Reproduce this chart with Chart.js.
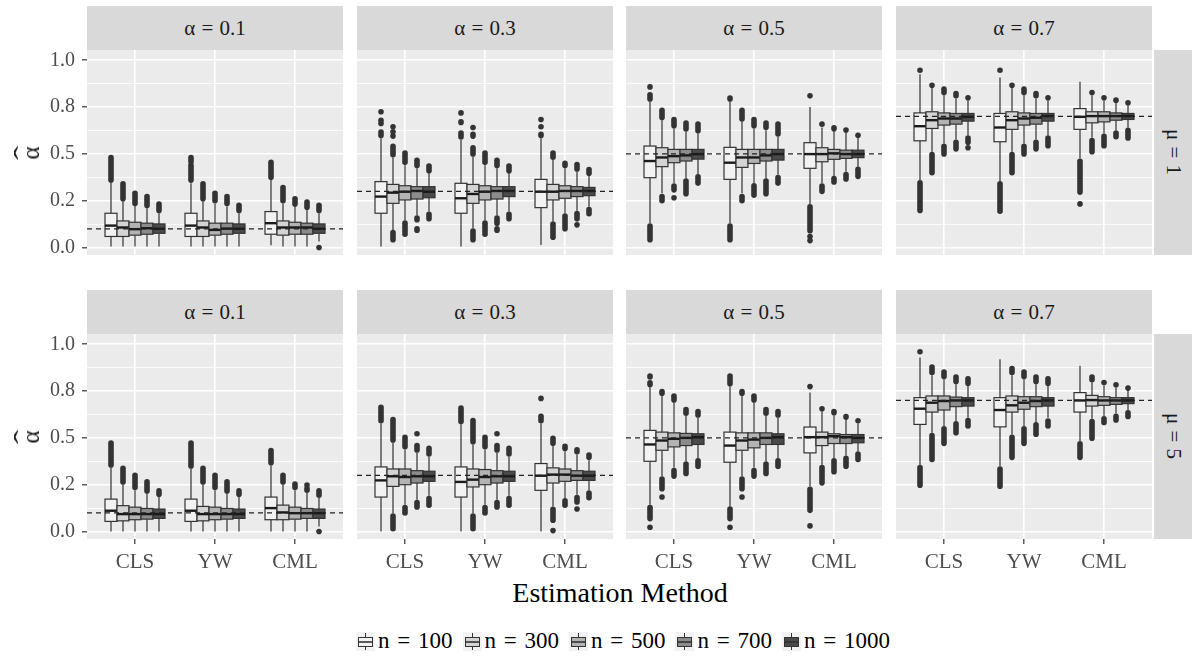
<!DOCTYPE html>
<html>
<head>
<meta charset="utf-8">
<script src="https://cdn.jsdelivr.net/npm/chart.js@4.4.1/dist/chart.umd.min.js"></script>
<style>
  body { margin: 0; background: #fff; width: 1192px; height: 657px; position: relative; overflow: hidden; font-family: "Liberation Serif", serif; }
  canvas { position: absolute; }
  .strip { position: absolute; background: #d9d9d9; color: #1a1a1a; font-size: 21px; display: flex; align-items: center; justify-content: center; word-spacing: 1px; }
  .strip.side { writing-mode: vertical-rl; }
  .ylab { position: absolute; font-size: 25px; color: #1a1a1a; line-height: 1; text-align: center; transform: translate(-50%, -50%) rotate(-90deg); }
  .ylab .hat { display: block; height: 3px; line-height: 18px; transform: scaleX(1.7); }
  #xtitle { position: absolute; left: 0; width: 1240px; top: 577px; text-align: center; font-size: 28px; color: #000; }
  #legend { position: absolute; left: 0; width: 1246px; top: 628px; display: flex; justify-content: center; align-items: center; font-size: 23px; color: #000; word-spacing: 2px; }
  #legend .item { display: flex; align-items: center; margin: 0 5px; }
  #legend canvas { position: static; margin-right: 3px; }
</style>
</head>
<body>
<div id="xtitle">Estimation Method</div>
<div id="legend"></div>
<script>
const methods = ['CLS', 'YW', 'CML'];
const sampleSizes = [100, 300, 500, 700, 1000];
const boxFills = ['#f2f2f2', '#d4d4d4', '#b3b3b3', '#8c8c8c', '#4a4a4a'];
const alphas = [0.1, 0.3, 0.5, 0.7];
const mus = [1, 5];
const yTicks = [0, 0.25, 0.5, 0.75, 1];
const yTickLabels = ['0.0', '0.2', '0.5', '0.8', '1.0'];
const yGrid = [0, 0.125, 0.25, 0.375, 0.5, 0.625, 0.75, 0.875, 1];

// box stats per method and n: [lower whisker, q1, median, q3, upper whisker]
// outliers: list of [from, to] runs (from == to is a single point)
const statsMu1A01 = [
  [0.005, 0.059, 0.117, 0.183, 0.345], [0.005, 0.059, 0.107, 0.142, 0.245], [0.005, 0.066, 0.098, 0.135, 0.222], [0.005, 0.071, 0.103, 0.130, 0.210], [0.005, 0.076, 0.100, 0.126, 0.183],
  [0.005, 0.059, 0.117, 0.183, 0.343], [0.005, 0.059, 0.107, 0.142, 0.245], [0.005, 0.066, 0.094, 0.130, 0.235], [0.005, 0.071, 0.101, 0.130, 0.220], [0.005, 0.076, 0.100, 0.126, 0.183],
  [0.012, 0.071, 0.130, 0.192, 0.360], [0.005, 0.066, 0.107, 0.142, 0.235], [0.005, 0.071, 0.107, 0.135, 0.218], [0.005, 0.071, 0.107, 0.130, 0.200], [0.032, 0.076, 0.100, 0.126, 0.183]
];
const outMu1A01 = [
  [[0.36, 0.48]], [[0.26, 0.34]], [[0.235, 0.29]], [[0.225, 0.25], [0.262, 0.272]], [[0.198, 0.232]],
  [[0.36, 0.44], [0.46, 0.48]], [[0.26, 0.34]], [[0.25, 0.29]], [[0.235, 0.272]], [[0.198, 0.225]],
  [[0.375, 0.455]], [[0.25, 0.32]], [[0.232, 0.26]], [[0.215, 0.243]], [[0.198, 0.225], [0.0, 0.0]]
];
const statsMu1A03 = [
  [0.005, 0.183, 0.272, 0.352, 0.583], [0.094, 0.236, 0.293, 0.337, 0.481], [0.144, 0.254, 0.298, 0.330, 0.440], [0.171, 0.259, 0.302, 0.325, 0.423], [0.192, 0.266, 0.298, 0.325, 0.396],
  [0.005, 0.183, 0.263, 0.343, 0.574], [0.103, 0.236, 0.286, 0.337, 0.485], [0.144, 0.254, 0.298, 0.330, 0.440], [0.171, 0.259, 0.302, 0.325, 0.423], [0.192, 0.272, 0.302, 0.325, 0.398],
  [0.014, 0.213, 0.298, 0.364, 0.583], [0.139, 0.254, 0.298, 0.337, 0.467], [0.183, 0.263, 0.302, 0.330, 0.423], [0.197, 0.272, 0.302, 0.325, 0.405], [0.218, 0.277, 0.302, 0.321, 0.382]
];
const outMu1A03 = [
  [[0.598, 0.617], [0.663, 0.663], [0.68, 0.68], [0.725, 0.725]], [[0.496, 0.54], [0.595, 0.595], [0.618, 0.618], [0.645, 0.645], [0.042, 0.08]], [[0.455, 0.505], [0.085, 0.13], [0.071, 0.071]], [[0.438, 0.466], [0.148, 0.157], [0.092, 0.10]], [[0.41, 0.435], [0.153, 0.178]],
  [[0.59, 0.612], [0.668, 0.672], [0.719, 0.719]], [[0.50, 0.532], [0.595, 0.605], [0.641, 0.641], [0.042, 0.088]], [[0.455, 0.505], [0.085, 0.13], [0.071, 0.071]], [[0.438, 0.466], [0.13, 0.157], [0.092, 0.10]], [[0.41, 0.435], [0.153, 0.178]],
  [[0.598, 0.605], [0.645, 0.645], [0.684, 0.684]], [[0.482, 0.505], [0.055, 0.125]], [[0.438, 0.45], [0.10, 0.168]], [[0.42, 0.443], [0.153, 0.182], [0.121, 0.121]], [[0.397, 0.417], [0.18, 0.203]]
];
const statsMu1A05 = [
  [0.130, 0.373, 0.462, 0.542, 0.778], [0.290, 0.432, 0.481, 0.533, 0.680], [0.343, 0.453, 0.488, 0.524, 0.636], [0.369, 0.462, 0.492, 0.524, 0.618], [0.393, 0.472, 0.499, 0.524, 0.609],
  [0.130, 0.364, 0.453, 0.535, 0.778], [0.290, 0.428, 0.481, 0.524, 0.671], [0.343, 0.449, 0.481, 0.524, 0.636], [0.369, 0.462, 0.492, 0.524, 0.627], [0.389, 0.467, 0.499, 0.524, 0.591],
  [0.233, 0.423, 0.499, 0.560, 0.751], [0.343, 0.458, 0.499, 0.533, 0.641], [0.382, 0.471, 0.503, 0.524, 0.627], [0.405, 0.476, 0.499, 0.520, 0.618], [0.432, 0.480, 0.499, 0.520, 0.588]
];
const outMu1A05 = [
  [[0.793, 0.816], [0.858, 0.858], [0.042, 0.115]], [[0.695, 0.733], [0.25, 0.272]], [[0.651, 0.683], [0.308, 0.328], [0.266, 0.266]], [[0.633, 0.665], [0.287, 0.355]], [[0.624, 0.66], [0.344, 0.378]],
  [[0.793, 0.798], [0.042, 0.115]], [[0.686, 0.733], [0.25, 0.272]], [[0.651, 0.683], [0.28, 0.33]], [[0.642, 0.665], [0.287, 0.355]], [[0.606, 0.66], [0.344, 0.374]],
  [[0.81, 0.81], [0.09, 0.218], [0.059, 0.059], [0.037, 0.037]], [[0.659, 0.659], [0.30, 0.328]], [[0.634, 0.64], [0.35, 0.368]], [[0.628, 0.628], [0.366, 0.39]], [[0.60, 0.60], [0.38, 0.418]]
];
const statsMu1A07 = [
  [0.361, 0.570, 0.648, 0.719, 0.925], [0.512, 0.636, 0.680, 0.725, 0.854], [0.556, 0.654, 0.689, 0.719, 0.813], [0.577, 0.659, 0.689, 0.716, 0.796], [0.600, 0.675, 0.698, 0.716, 0.787],
  [0.355, 0.565, 0.641, 0.716, 0.908], [0.512, 0.631, 0.680, 0.725, 0.854], [0.556, 0.654, 0.689, 0.719, 0.813], [0.577, 0.659, 0.693, 0.716, 0.796], [0.600, 0.675, 0.702, 0.716, 0.787],
  [0.476, 0.631, 0.698, 0.742, 0.885], [0.586, 0.666, 0.702, 0.725, 0.813], [0.609, 0.671, 0.702, 0.725, 0.787], [0.627, 0.680, 0.702, 0.719, 0.778], [0.641, 0.684, 0.702, 0.716, 0.760]
];
const outMu1A07 = [
  [[0.947, 0.947], [0.198, 0.346]], [[0.867, 0.867], [0.40, 0.497]], [[0.828, 0.846], [0.50, 0.541]], [[0.811, 0.822], [0.527, 0.562]], [[0.80, 0.802], [0.562, 0.585], [0.533, 0.533]],
  [[0.947, 0.947], [0.194, 0.34]], [[0.867, 0.867], [0.40, 0.497]], [[0.828, 0.846], [0.50, 0.541]], [[0.811, 0.822], [0.527, 0.562]], [[0.80, 0.802], [0.544, 0.585]],
  [[0.296, 0.461], [0.233, 0.233]], [[0.828, 0.83], [0.512, 0.571]], [[0.80, 0.80], [0.544, 0.594]], [[0.787, 0.787], [0.592, 0.612]], [[0.773, 0.773], [0.585, 0.626]]
];
const statsMu5A01 = [
  [0.0, 0.054, 0.111, 0.173, 0.340], [0.0, 0.057, 0.093, 0.138, 0.250], [0.0, 0.063, 0.093, 0.130, 0.220], [0.0, 0.066, 0.093, 0.123, 0.202], [0.0, 0.070, 0.093, 0.120, 0.184],
  [0.0, 0.054, 0.111, 0.173, 0.335], [0.0, 0.057, 0.093, 0.134, 0.250], [0.0, 0.063, 0.093, 0.130, 0.220], [0.0, 0.066, 0.093, 0.123, 0.202], [0.0, 0.070, 0.093, 0.120, 0.184],
  [0.0, 0.063, 0.125, 0.184, 0.352], [0.0, 0.063, 0.102, 0.141, 0.250], [0.0, 0.066, 0.098, 0.130, 0.220], [0.0, 0.070, 0.098, 0.123, 0.206], [0.027, 0.070, 0.098, 0.120, 0.179]
];
const outMu5A01 = [
  [[0.355, 0.473]], [[0.265, 0.337]], [[0.235, 0.30]], [[0.217, 0.266]], [[0.199, 0.217]],
  [[0.35, 0.473]], [[0.265, 0.337]], [[0.235, 0.30]], [[0.217, 0.266]], [[0.199, 0.217]],
  [[0.367, 0.432]], [[0.265, 0.30]], [[0.235, 0.253]], [[0.221, 0.23], [0.248, 0.248]], [[0.194, 0.217], [0.0, 0.0]]
];
const statsMu5A03 = [
  [0.0, 0.184, 0.273, 0.345, 0.577], [0.098, 0.241, 0.295, 0.334, 0.474], [0.143, 0.250, 0.291, 0.334, 0.438], [0.170, 0.259, 0.295, 0.325, 0.420], [0.191, 0.268, 0.295, 0.322, 0.399],
  [0.0, 0.184, 0.265, 0.345, 0.572], [0.098, 0.238, 0.277, 0.334, 0.465], [0.143, 0.250, 0.291, 0.331, 0.438], [0.170, 0.259, 0.295, 0.325, 0.420], [0.191, 0.268, 0.295, 0.322, 0.399],
  [0.0, 0.220, 0.298, 0.363, 0.577], [0.134, 0.259, 0.304, 0.340, 0.456], [0.179, 0.268, 0.304, 0.334, 0.429], [0.197, 0.273, 0.298, 0.325, 0.411], [0.220, 0.273, 0.298, 0.322, 0.381]
];
const outMu5A03 = [
  [[0.592, 0.664]], [[0.489, 0.598], [0.015, 0.083]], [[0.453, 0.503], [0.099, 0.128]], [[0.435, 0.459], [0.522, 0.522], [0.131, 0.155]], [[0.414, 0.444], [0.14, 0.176]],
  [[0.587, 0.659]], [[0.48, 0.593], [0.015, 0.083]], [[0.453, 0.503], [0.099, 0.128]], [[0.435, 0.459], [0.522, 0.522], [0.131, 0.155]], [[0.414, 0.444], [0.14, 0.176]],
  [[0.592, 0.616], [0.711, 0.711]], [[0.471, 0.498], [0.06, 0.119], [0.005, 0.005]], [[0.444, 0.455], [0.14, 0.164]], [[0.426, 0.437], [0.158, 0.182], [0.12, 0.12]], [[0.396, 0.409], [0.181, 0.205]]
];
const statsMu5A05 = [
  [0.143, 0.375, 0.465, 0.540, 0.774], [0.295, 0.434, 0.486, 0.531, 0.724], [0.340, 0.452, 0.495, 0.527, 0.688], [0.375, 0.459, 0.500, 0.524, 0.617], [0.393, 0.465, 0.504, 0.522, 0.608],
  [0.134, 0.370, 0.459, 0.531, 0.774], [0.295, 0.434, 0.486, 0.527, 0.724], [0.340, 0.447, 0.491, 0.527, 0.688], [0.375, 0.465, 0.500, 0.527, 0.617], [0.393, 0.465, 0.504, 0.522, 0.608],
  [0.241, 0.420, 0.504, 0.558, 0.742], [0.357, 0.459, 0.504, 0.531, 0.643], [0.393, 0.470, 0.509, 0.522, 0.620], [0.406, 0.470, 0.504, 0.518, 0.599], [0.429, 0.474, 0.500, 0.518, 0.577]
];
const outMu5A05 = [
  [[0.785, 0.795], [0.825, 0.83], [0.069, 0.128], [0.023, 0.023]], [[0.739, 0.748], [0.229, 0.28], [0.184, 0.184]], [[0.703, 0.723], [0.296, 0.325]], [[0.632, 0.652], [0.31, 0.36]], [[0.623, 0.641], [0.349, 0.378]],
  [[0.789, 0.83], [0.069, 0.12], [0.023, 0.023]], [[0.739, 0.748], [0.229, 0.28], [0.184, 0.184]], [[0.703, 0.723], [0.296, 0.325]], [[0.632, 0.652], [0.31, 0.36]], [[0.623, 0.641], [0.349, 0.378]],
  [[0.774, 0.774], [0.113, 0.226], [0.03, 0.03]], [[0.656, 0.656], [0.26, 0.342]], [[0.635, 0.641], [0.319, 0.378]], [[0.611, 0.614], [0.349, 0.391]], [[0.592, 0.593], [0.385, 0.414]]
];
const statsMu5A07 = [
  [0.357, 0.572, 0.656, 0.715, 0.929], [0.527, 0.638, 0.688, 0.724, 0.835], [0.563, 0.649, 0.697, 0.724, 0.813], [0.590, 0.667, 0.700, 0.718, 0.786], [0.608, 0.670, 0.700, 0.715, 0.777],
  [0.349, 0.559, 0.649, 0.715, 0.920], [0.518, 0.638, 0.674, 0.724, 0.835], [0.563, 0.653, 0.688, 0.720, 0.813], [0.584, 0.667, 0.697, 0.720, 0.786], [0.608, 0.670, 0.700, 0.715, 0.777],
  [0.483, 0.638, 0.700, 0.742, 0.885], [0.602, 0.670, 0.702, 0.727, 0.795], [0.617, 0.674, 0.700, 0.720, 0.781], [0.631, 0.679, 0.700, 0.715, 0.769], [0.649, 0.683, 0.700, 0.715, 0.756]
];
const outMu5A07 = [
  [[0.96, 0.96], [0.247, 0.342]], [[0.85, 0.879], [0.385, 0.512]], [[0.828, 0.852], [0.471, 0.548]], [[0.801, 0.825], [0.528, 0.575]], [[0.792, 0.816], [0.564, 0.593]],
  [[0.242, 0.334]], [[0.85, 0.87], [0.396, 0.503]], [[0.828, 0.852], [0.471, 0.548]], [[0.801, 0.825], [0.52, 0.57]], [[0.792, 0.816], [0.564, 0.59]],
  [[0.396, 0.468]], [[0.81, 0.825], [0.498, 0.587]], [[0.796, 0.798], [0.582, 0.602]], [[0.784, 0.784], [0.596, 0.616]], [[0.766, 0.766], [0.614, 0.634]]
];

const panelStats = [
  [statsMu1A01, statsMu1A03, statsMu1A05, statsMu1A07],
  [statsMu5A01, statsMu5A03, statsMu5A05, statsMu5A07]
];
const panelOutliers = [
  [outMu1A01, outMu1A03, outMu1A05, outMu1A07],
  [outMu5A01, outMu5A03, outMu5A05, outMu5A07]
];

// layout of the facet grid
const colX = [87, 357, 626, 896];
const rowY = [50, 334];
const panelW = 256, panelH = 205;
const stripH = 44, sideStripW = 38;
const axisW = 87, axisH = 45;
const FONT = '"Liberation Serif", serif';
const dodgeStep = 0.15, boxHalf = 0.075;

const panelBg = {
  id: 'panelBg',
  beforeDraw(chart) {
    const { ctx, chartArea: a } = chart;
    ctx.save();
    ctx.fillStyle = '#ebebeb';
    ctx.fillRect(a.left, a.top, a.width, a.height);
    ctx.restore();
  }
};

const boxes = {
  id: 'boxes',
  afterDatasetsDraw(chart, args, opts) {
    const { ctx, chartArea: a, scales: { x, y } } = chart;
    ctx.save();
    ctx.beginPath();
    ctx.rect(a.left, a.top, a.width, a.height);
    ctx.clip();
    methods.forEach((m, mi) => {
      sampleSizes.forEach((n, ni) => {
        const k = mi * sampleSizes.length + ni;
        const [lo, q1, med, q3, hi] = opts.stats[k];
        const cx = mi + 1 + (ni - 2) * dodgeStep;
        const xc = x.getPixelForValue(cx);
        const xl = x.getPixelForValue(cx - boxHalf);
        const xr = x.getPixelForValue(cx + boxHalf);

        // outliers
        ctx.fillStyle = '#333';
        ctx.strokeStyle = '#333';
        ctx.lineCap = 'round';
        ctx.lineWidth = 5.6;
        opts.outliers[k].forEach(([from, to]) => {
          const y0 = y.getPixelForValue(from), y1 = y.getPixelForValue(to);
          if (Math.abs(y0 - y1) < 0.5) {
            ctx.beginPath();
            ctx.arc(xc, y0, 2.8, 0, Math.PI * 2);
            ctx.fill();
          } else {
            ctx.beginPath();
            ctx.moveTo(xc, y0);
            ctx.lineTo(xc, y1);
            ctx.stroke();
          }
        });

        // whiskers
        ctx.lineCap = 'butt';
        ctx.lineWidth = 1.2;
        ctx.beginPath();
        ctx.moveTo(xc, y.getPixelForValue(lo));
        ctx.lineTo(xc, y.getPixelForValue(q1));
        ctx.moveTo(xc, y.getPixelForValue(q3));
        ctx.lineTo(xc, y.getPixelForValue(hi));
        ctx.stroke();

        // box
        const yt = y.getPixelForValue(q3), yb = y.getPixelForValue(q1);
        ctx.fillStyle = boxFills[ni];
        ctx.fillRect(xl, yt, xr - xl, yb - yt);
        ctx.strokeRect(xl, yt, xr - xl, yb - yt);

        // median
        ctx.strokeStyle = '#1a1a1a';
        ctx.lineWidth = 2.4;
        const ym = y.getPixelForValue(med);
        ctx.beginPath();
        ctx.moveTo(xl, ym);
        ctx.lineTo(xr, ym);
        ctx.stroke();
      });
    });

    // true alpha
    ctx.strokeStyle = '#222';
    ctx.lineWidth = 1.2;
    ctx.setLineDash([5, 4]);
    const ya = y.getPixelForValue(opts.alpha);
    ctx.beginPath();
    ctx.moveTo(a.left, ya);
    ctx.lineTo(a.right, ya);
    ctx.stroke();
    ctx.restore();
  }
};

function addDiv(cls, text, left, top, w, h) {
  const d = document.createElement('div');
  d.className = cls;
  d.textContent = text;
  Object.assign(d.style, { left: left + 'px', top: top + 'px', width: w + 'px', height: h + 'px' });
  document.body.appendChild(d);
  return d;
}

mus.forEach((mu, r) => {
  alphas.forEach((alpha, c) => {
    addDiv('strip', 'α = ' + alpha, colX[c], rowY[r] - stripH, panelW, stripH);

    const canvas = document.createElement('canvas');
    const left = c === 0 ? 0 : colX[c];
    const w = panelW + (c === 0 ? axisW : 0);
    const h = panelH + (r === 1 ? axisH : 0);
    canvas.width = w;
    canvas.height = h;
    canvas.style.left = left + 'px';
    canvas.style.top = rowY[r] + 'px';
    document.body.appendChild(canvas);

    new Chart(canvas, {
      type: 'scatter',
      data: { datasets: [] },
      options: {
        responsive: false,
        animation: false,
        events: [],
        layout: { padding: 0 },
        plugins: {
          legend: { display: false },
          tooltip: { enabled: false },
          boxes: { stats: panelStats[r][c], outliers: panelOutliers[r][c], alpha: alpha }
        },
        scales: {
          x: {
            type: 'linear', min: 0.4, max: 3.6,
            afterBuildTicks: s => { s.ticks = methods.map((m, i) => ({ value: i + 1 })); },
            afterFit: s => { s.height = r === 1 ? axisH : 0; s.paddingLeft = 0; s.paddingRight = 0; },
            ticks: {
              display: r === 1, autoSkip: false, maxRotation: 0, padding: 6,
              color: '#4d4d4d', font: { family: FONT, size: 21 },
              callback: v => methods[v - 1]
            },
            grid: { color: '#fff', lineWidth: 1.6, drawTicks: r === 1, tickLength: 5, tickColor: '#333', tickWidth: 1.2 },
            border: { display: false }
          },
          y: {
            type: 'linear', min: -0.04, max: 1.055,
            afterBuildTicks: s => { s.ticks = yGrid.map(v => ({ value: v })); },
            afterFit: s => { s.width = c === 0 ? axisW : 0; s.paddingTop = 0; s.paddingBottom = 0; },
            ticks: {
              display: c === 0, autoSkip: false, padding: 7,
              color: '#4d4d4d', font: { family: FONT, size: 20 },
              callback: v => { const i = yTicks.indexOf(v); return i < 0 ? '' : yTickLabels[i]; }
            },
            grid: {
              color: '#fff',
              lineWidth: ctx => yTicks.includes(ctx.tick.value) ? 1.6 : 0.8,
              drawTicks: c === 0, tickLength: 5, tickWidth: 1.2,
              tickColor: ctx => yTicks.includes(ctx.tick.value) ? '#333' : 'rgba(0,0,0,0)'
            },
            border: { display: false }
          }
        }
      },
      plugins: [panelBg, boxes]
    });
  });

  addDiv('strip side', 'μ = ' + mu, colX[3] + panelW + 2, rowY[r], sideStripW, panelH);

  // axis title: alpha with a hat, turned to read upwards
  const yl = document.createElement('div');
  yl.className = 'ylab';
  yl.style.left = '29px';
  yl.style.top = (rowY[r] + panelH / 2) + 'px';
  const hat = document.createElement('span');
  hat.className = 'hat';
  hat.textContent = 'ˆ';
  yl.appendChild(hat);
  yl.appendChild(document.createTextNode('α'));
  document.body.appendChild(yl);
});

// legend
const legend = document.getElementById('legend');
sampleSizes.forEach((n, i) => {
  const item = document.createElement('div');
  item.className = 'item';
  const key = document.createElement('canvas');
  key.width = 19;
  key.height = 19;
  const k = key.getContext('2d');
  k.fillStyle = '#f2f2f2';
  k.fillRect(0, 0, 19, 19);
  k.strokeStyle = '#333';
  k.lineWidth = 1;
  k.beginPath();
  k.moveTo(9.5, 1); k.lineTo(9.5, 18);
  k.stroke();
  k.fillStyle = boxFills[i];
  k.fillRect(2.5, 5.5, 14, 9);
  k.strokeRect(2.5, 5.5, 14, 9);
  k.lineWidth = 1.6;
  k.beginPath();
  k.moveTo(2.5, 10); k.lineTo(16.5, 10);
  k.stroke();
  const label = document.createElement('span');
  label.textContent = 'n = ' + n;
  item.appendChild(key);
  item.appendChild(label);
  legend.appendChild(item);
});
</script>
</body>
</html>
